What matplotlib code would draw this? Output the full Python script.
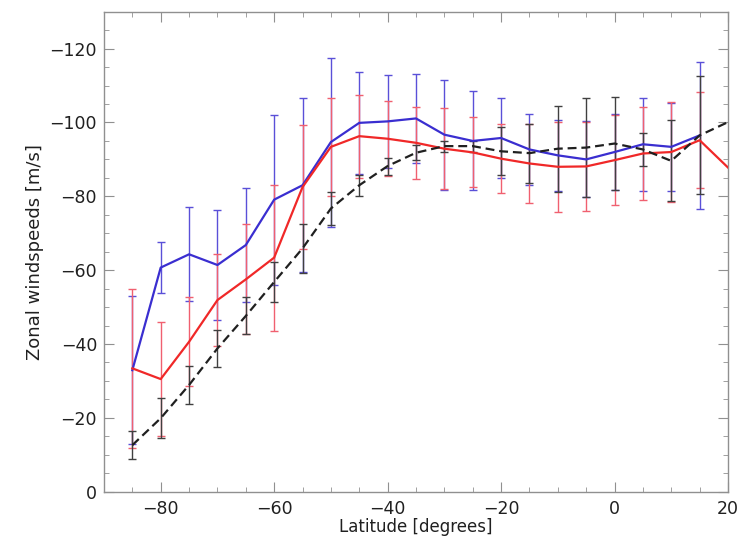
import matplotlib
matplotlib.use("Agg")
import matplotlib.pyplot as plt
from matplotlib.ticker import MultipleLocator

# Latitudes of the measurement points
lat = [-85, -80, -75, -70, -65, -60, -55, -50, -45, -40, -35, -30, -25, -20,
       -15, -10, -5, 0, 5, 10, 15]
lat_ext = lat + [20]

# Blue series
blue = [-32.9, -60.7, -64.3, -61.4, -66.8, -79.1, -83.0, -94.7, -99.9, -100.3,
        -101.1, -96.7, -95.0, -95.8, -92.7, -91.1, -90.0, -92.0, -94.1, -93.4, -96.5]
blue_err = [20, 7, 12.7, 15, 15.5, 23, 23.6, 22.9, 13.8, 12.5, 12, 14.9, 13.4,
            10.7, 9.7, 9.7, 10.3, 10.2, 12.6, 12, 20]

# Red series (line extends to 20)
red = [-33.4, -30.5, -40.6, -51.9, -57.5, -63.4, -82.5, -93.4, -96.3, -95.6,
       -94.5, -92.9, -91.9, -90.2, -88.9, -88.0, -88.1, -89.8, -91.6, -92.0, -95.2, -87.8]
red_err = [21.6, 15.5, 12, 12.5, 14.9, 19.8, 16.7, 13.2, 11.2, 10.1, 9.8, 10.9,
           9.5, 9.3, 10.6, 12.2, 12, 12.2, 12.5, 13.5, 13]

# Black dashed series (line extends to 20)
black = [-12.6, -19.9, -28.9, -38.8, -47.6, -56.8, -65.9, -76.7, -83.0, -88.2,
         -91.8, -93.6, -93.6, -92.2, -91.7, -92.9, -93.2, -94.3, -92.7, -89.6, -96.5, -100.1]
black_err = [3.7, 5.4, 5.2, 5, 5, 5.5, 6.7, 4.5, 2.9, 2.3, 2, 1.5, 1.5, 6.5, 8,
             11.7, 13.5, 12.5, 4.5, 11, 16]

xticks = [-80, -60, -40, -20, 0, 20]
yticks = [0, -20, -40, -60, -80, -100, -120]

fig = plt.figure(figsize=(7.39, 5.46), dpi=100)
ax = fig.add_axes([0.1407, 0.0995, 0.8444, 0.879])

n = len(lat)
ax.errorbar(lat, blue, yerr=blue_err, fmt='none', ecolor='#5a50d8',
            elinewidth=1.0, capsize=3, capthick=1.0, zorder=2)
ax.errorbar(lat, red[:n], yerr=red_err, fmt='none', ecolor='#f06070',
            elinewidth=1.0, capsize=3, capthick=1.0, zorder=2)
ax.errorbar(lat, black[:n], yerr=black_err, fmt='none', ecolor='#404040',
            elinewidth=1.0, capsize=3, capthick=1.0, zorder=3)

ax.plot(lat, blue, color='#3a2ed0', lw=1.6, zorder=4)
ax.plot(lat_ext, red, color='#f02828', lw=1.6, zorder=5)
ax.plot(lat_ext, black, color='#202020', lw=1.6, ls=(0, (4, 2.2)), zorder=6)

ax.set_xlim(-90, 20)
ax.set_ylim(0, -130)
ax.set_xticks(xticks)
ax.set_yticks(yticks)
ax.xaxis.set_minor_locator(MultipleLocator(5))
ax.yaxis.set_minor_locator(MultipleLocator(5))
ax.tick_params(which='both', direction='in', top=True, right=True,
               color='#909090', labelsize=12.5, labelcolor='#202020')
ax.tick_params(which='major', length=7)
ax.tick_params(which='minor', length=3.5)
ax.tick_params(axis='y', pad=5)
ax.tick_params(axis='x', pad=6)
for s in ax.spines.values():
    s.set_color('#909090')
    s.set_linewidth(1.0)

ax.set_xlabel('Latitude [degrees]', fontsize=12, color='#202020', labelpad=0)
ax.set_ylabel('Zonal windspeeds [m/s]', fontsize=13, color='#202020', labelpad=4)

fig.savefig('out.png', dpi=100)
